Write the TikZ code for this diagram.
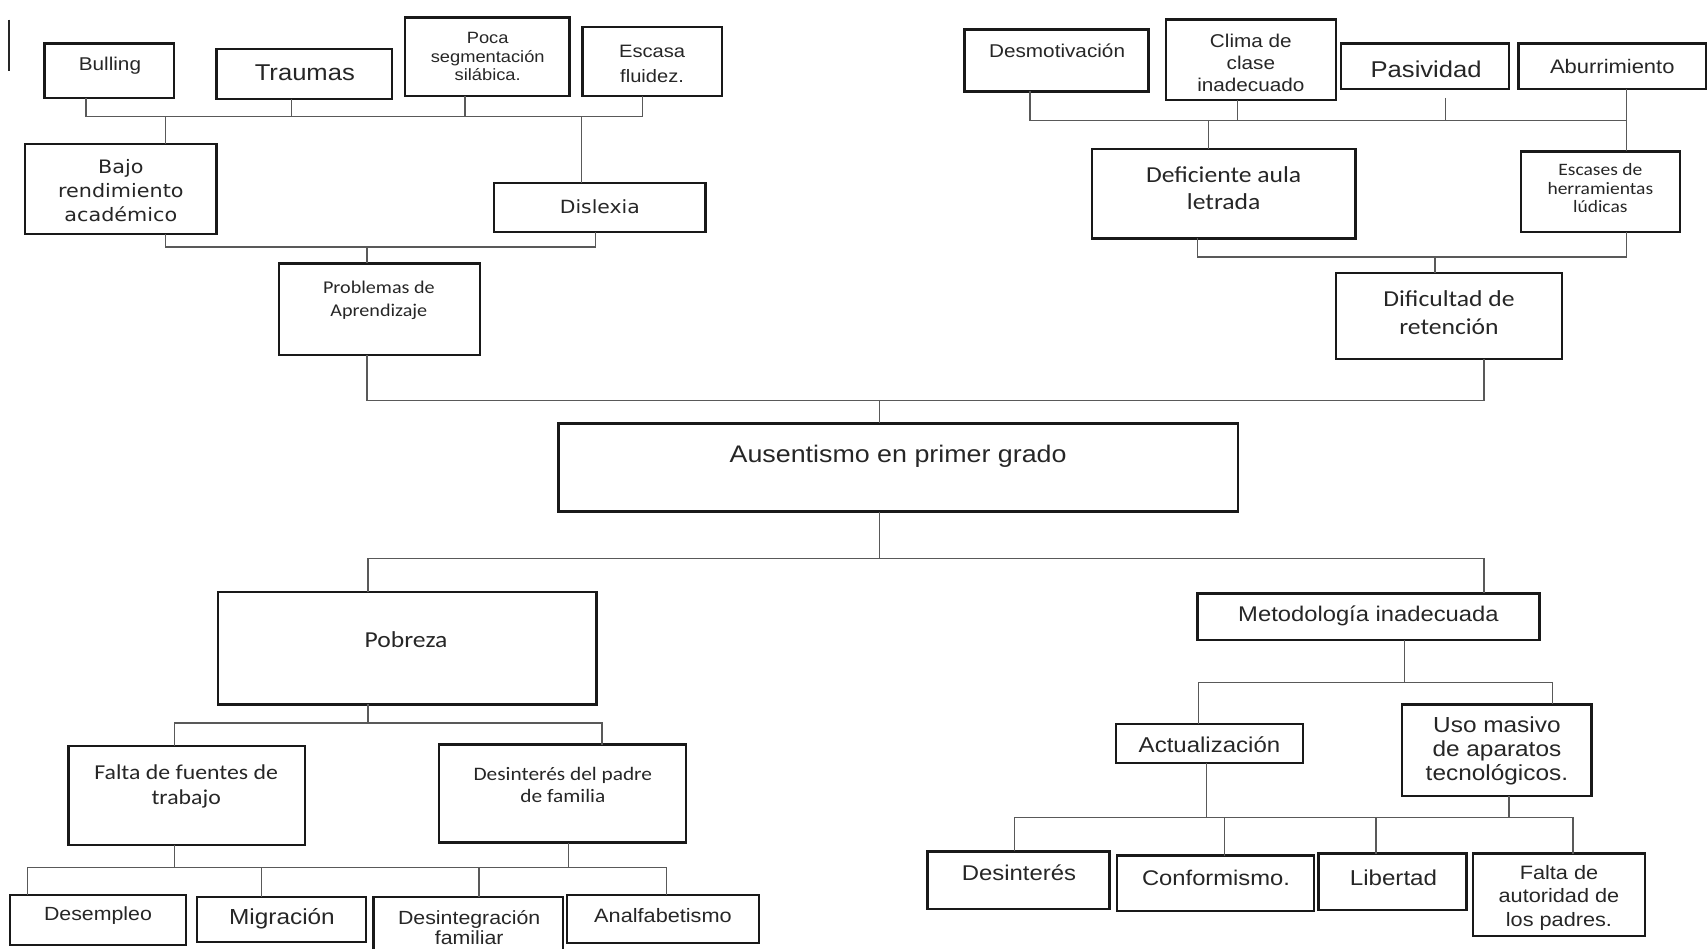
\documentclass[tikz,border=0pt]{standalone}
\usepackage{fontspec}
\newfontfamily\farial[FakeStretch=1.12]{Liberation Sans}
\newfontfamily\fcarl[FakeStretch=1.12]{Carlito}
\newfontfamily\fdeja[FakeStretch=1.12]{DejaVu Sans}
\newcommand\fA[2]{\farial\fontsize{#1}{#2}\selectfont}
\newcommand\fC[2]{\fcarl\fontsize{#1}{#2}\selectfont}
\newcommand\fD[2]{\fdeja\fontsize{#1}{#2}\selectfont}
\tikzset{
  boxst/.style={draw=black!90, line width=2.2pt, inner sep=0pt, outer sep=0pt},
  conn/.style={draw=black!65, line width=1.2pt},
  lbl/.style={align=center, inner sep=0pt, text=black!85}
}
\newcommand\Bx[5]{\node[boxst, minimum width={(#4-#2)*1pt}, minimum height={(#5-#3)*1pt}] (#1) at ({(#2+#4)/2},{(#3+#5)/2}) {};}
\begin{document}
\begin{tikzpicture}[x=1pt,y=-1pt]
\useasboundingbox (0,0) rectangle (1568,871);
\clip (0,0) rectangle (1568,871);
% stray mark
\coordinate (bar1) at (8,18); \coordinate (bar2) at (8,65);
\draw[line width=2pt, black!85] (bar1) -- (bar2);

% ---------- top left ----------
\Bx{bul}{41}{40}{160}{90}
\Bx{tra}{199}{45}{360}{91}
\Bx{poc}{372}{16}{523}{88}
\Bx{esc}{535}{25}{663}{88}
\Bx{baj}{23}{132}{199}{215}
\Bx{dis}{454}{168}{648}{213}
\Bx{pro}{256}{242}{441}{326}
\node[lbl, font={\fA{17}{20}}] (bult) at (101,60) {Bulling};
\node[lbl, font={\fA{21}{24}}] (trat) at (280,67) {Traumas};
\node[lbl, font={\fA{15}{17}}] (poct) at (448,52) {Poca\\segmentación\\silábica.};
\node[lbl, font={\fA{16.5}{23}}] (esct) at (599,58.5) {Escasa\\fluidez.};
\node[lbl, font={\fD{17}{22}}] (bajt) at (111,175) {Bajo\\rendimiento\\académico};
\node[lbl, font={\fD{16.7}{20}}] (dist) at (551,190) {Dislexia};
\node[lbl, font={\fC{16.5}{21}}] (prot) at (348,275.5) {Problemas de\\Aprendizaje};

\draw[conn] (bul.south -| 79,0) -- (79,107) -- (590,107) -- (esc.south -| 590,0);
\draw[conn] (tra.south -| 268,0) -- (268,107);
\draw[conn] (poc.south -| 427,0) -- (427,107);
\draw[conn] (152,107) -- (baj.north -| 152,0);
\draw[conn] (534,107) -- (dis.north -| 534,0);
\draw[conn] (baj.south -| 152,0) -- (152,227) -- (547,227) -- (dis.south -| 547,0);
\draw[conn] (337,227) -- (pro.north -| 337,0);

% ---------- top right ----------
\Bx{des}{886}{27}{1055}{84}
\Bx{cli}{1071}{18}{1227}{92}
\Bx{pas}{1232}{40}{1386}{82}
\Bx{abu}{1395}{40}{1567}{82}
\Bx{def}{1003}{137}{1245}{219}
\Bx{esh}{1397}{139}{1543}{213}
\Bx{dif}{1227}{251}{1435}{330}
\node[lbl, font={\fA{17}{20}}] (dest) at (971,47) {Desmotivación};
\node[lbl, font={\fA{17}{20}}] (clit) at (1149,58) {Clima de\\clase\\inadecuado};
\node[lbl, font={\fA{21}{24}}] (past) at (1310,64) {Pasividad};
\node[lbl, font={\fA{18}{21}}] (abut) at (1481,61) {Aburrimiento};
\node[lbl, font={\fC{21}{25}}] (deft) at (1124,172.5) {Deficiente aula\\letrada};
\node[lbl, font={\fC{16}{17}}] (esht) at (1470,173) {Escases de\\herramientas\\lúdicas};
\node[lbl, font={\fC{21}{26}}] (dift) at (1331,287) {Dificultad de\\retención};

\draw[conn] (des.south -| 946,0) -- (946,111) -- (1494,111);
\draw[conn] (cli.south -| 1137,0) -- (1137,111);
\coordinate (pasj) at (1328,90);
\draw[conn] (pasj) -- (1328,111);
\draw[conn] (abu.south -| 1494,0) -- (esh.north -| 1494,0);
\draw[conn] (1110,111) -- (def.north -| 1110,0);
\draw[conn] (def.south -| 1100,0) -- (1100,236) -- (1494,236) -- (esh.south -| 1494,0);
\draw[conn] (1318,236) -- (dif.north -| 1318,0);

% ---------- centre ----------
\Bx{aus}{513}{389}{1137}{470}
\node[lbl, font={\fA{22}{25}}] (aust) at (825,419) {Ausentismo en primer grado};
\draw[conn] (pro.south -| 337,0) -- (337,368) -- (1363,368) -- (dif.south -| 1363,0);
\draw[conn] (808,368) -- (aus.north -| 808,0);
\draw[conn] (aus.south -| 808,0) -- (808,513);

% ---------- bottom left ----------
\Bx{pob}{200}{544}{548}{647}
\Bx{fal}{63}{685}{280}{776}
\Bx{dpf}{403}{684}{630}{774}
\Bx{dem}{9}{822}{171}{868}
\Bx{mig}{181}{824}{336}{865}
\Bx{dsi}{343}{824}{517}{882}
\Bx{ana}{521}{822}{697}{866}
\node[lbl, font={\fC{21}{24}}] (pobt) at (373,588) {Pobreza};
\node[lbl, font={\fC{19.5}{23}}] (falt) at (171,722.5) {Falta de fuentes de\\trabajo};
\node[lbl, font={\fC{17.5}{20}}] (dpft) at (517,721) {Desinterés del padre\\de familia};
\node[lbl, font={\fA{17.5}{20}}] (demt) at (90,841) {Desempleo};
\node[lbl, font={\fA{20}{23}}] (migt) at (259,844) {Migración};
\node[lbl, font={\fA{17.5}{18}}] (dsit) at (431,852) {Desintegración\\familiar};
\node[lbl, font={\fA{17.8}{20}}] (anat) at (609,841) {Analfabetismo};

\draw[conn] (338,513) -- (1363,513);
\draw[conn] (338,513) -- (pob.north -| 338,0);
\draw[conn] (pob.south -| 338,0) -- (338,664);
\draw[conn] (fal.north -| 160,0) -- (160,664) -- (553,664) -- (dpf.north -| 553,0);
\draw[conn] (fal.south -| 160,0) -- (160,797);
\draw[conn] (dpf.south -| 522,0) -- (522,797);
\draw[conn] (dem.north -| 25,0) -- (25,797) -- (612,797) -- (ana.north -| 612,0);
\draw[conn] (240,797) -- (mig.north -| 240,0);
\draw[conn] (440,797) -- (dsi.north -| 440,0);

% ---------- bottom right ----------
\Bx{met}{1100}{545}{1414}{588}
\Bx{act}{1025}{665}{1197}{701}
\Bx{uso}{1288}{647}{1462}{731}
\Bx{dst}{852}{782}{1019}{835}
\Bx{con}{1026}{786}{1207}{837}
\Bx{lib}{1211}{784}{1347}{836}
\Bx{fau}{1353}{784}{1511}{860}
\node[lbl, font={\fA{19.5}{22}}] (mett) at (1257,566) {Metodología inadecuada};
\node[lbl, font={\fA{19.7}{22}}] (actt) at (1111,684) {Actualización};
\node[lbl, font={\fA{20}{22}}] (usot) at (1375,690) {Uso masivo\\de aparatos\\tecnológicos.};
\node[lbl, font={\fA{19.6}{22}}] (dstt) at (936,802) {Desinterés};
\node[lbl, font={\fA{19.5}{22}}] (cont) at (1117,806) {Conformismo.};
\node[lbl, font={\fA{19.8}{22}}] (libt) at (1280,806) {Libertad};
\node[lbl, font={\fA{17.8}{21.5}}] (faut) at (1432,824.5) {Falta de\\autoridad de\\los padres.};

\draw[conn] (1363,513) -- (met.north -| 1363,0);
\draw[conn] (met.south -| 1290,0) -- (1290,627);
\draw[conn] (act.north -| 1101,0) -- (1101,627) -- (1426,627) -- (uso.north -| 1426,0);
\draw[conn] (act.south -| 1108,0) -- (1108,751);
\draw[conn] (uso.south -| 1386,0) -- (1386,751);
\draw[conn] (dst.north -| 932,0) -- (932,751) -- (1445,751) -- (fau.north -| 1445,0);
\draw[conn] (1125,751) -- (con.north -| 1125,0);
\draw[conn] (1264,751) -- (lib.north -| 1264,0);
\end{tikzpicture}
\end{document}
